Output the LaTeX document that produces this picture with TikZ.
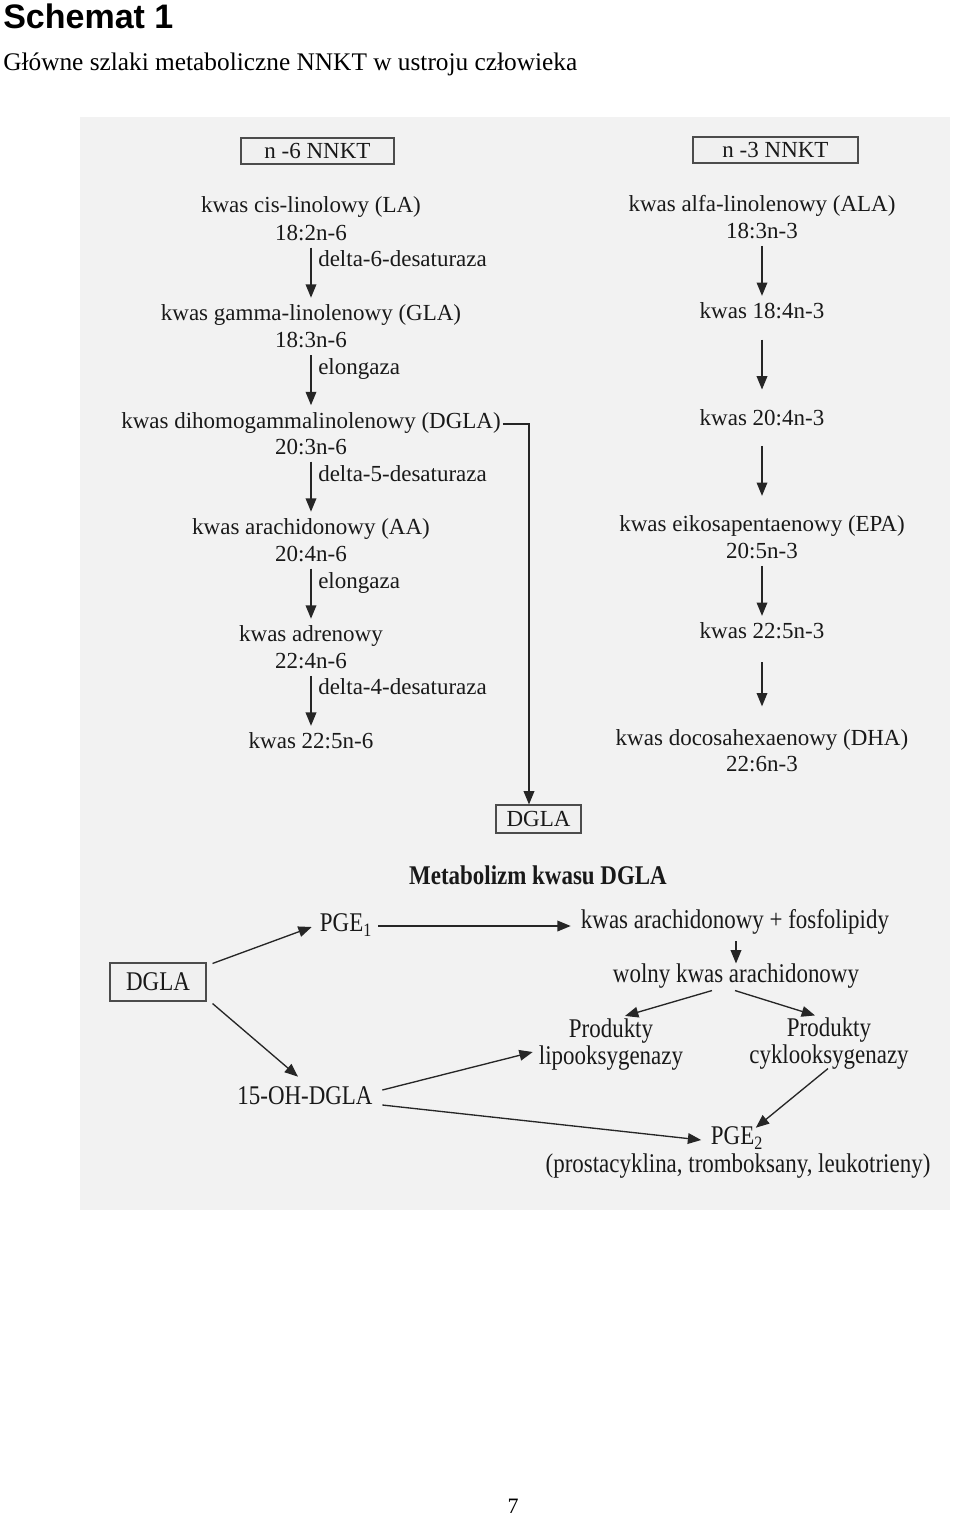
\documentclass[tikz,border=0pt]{standalone}
\usepackage{fontspec}
\setmainfont{Liberation Serif}
\newfontfamily\titlefont{Liberation Sans}
\newfontfamily\lowfont[FakeStretch=0.85]{Liberation Serif}
\usetikzlibrary{arrows.meta,calc}

\tikzset{
  txt/.style={font=\fontsize{17.25pt}{20pt}\selectfont, text=black!90, inner sep=0pt},
  enz/.style={txt, anchor=west},
  low/.style={font=\lowfont\fontsize{20.25pt}{20.25pt}\selectfont, text=black!90, inner sep=0pt, align=center},
  heading/.style={font=\lowfont\bfseries\fontsize{20.25pt}{24pt}\selectfont, text=black!90},
  tag/.style={draw=black!70, fill=black!6, line width=0.8pt, inner sep=0pt},
  flow/.style={draw=black!85, line width=1pt, -{Triangle[length=10pt,width=8pt]}},
}
\newcommand{\vflow}[3][25]{\draw[flow] ($(#2.south)!.5!(#3.north)+(0,-#1)$) -- ($(#2.south)!.5!(#3.north)+(0,#1)$);}

\begin{document}
\begin{tikzpicture}[x=0.75pt, y=-0.75pt]
  \useasboundingbox (0,0) rectangle (960,1517);
  \fill[black!5] (80,117) rectangle (950,1210);

  \node[anchor=base west, inner sep=0pt, font=\titlefont\bfseries\fontsize{25.5pt}{30pt}\selectfont] (title) at (3,28) {Schemat 1};
  \node[anchor=base west, inner sep=0pt, font=\fontsize{19pt}{22pt}\selectfont] (subtitle) at (3,70) {Główne szlaki metaboliczne NNKT w ustroju człowieka};

  % n-6
  \node[tag, txt, minimum width=114.75pt, minimum height=19.5pt] (n6) at (317.5,151) {n -6 NNKT};
  \node[txt] (la) at (311,207) {kwas cis-linolowy (LA)};
  \node[txt] (la2) at (311,233) {18:2n-6};
  \node[txt] (gla) at (311,315) {kwas gamma-linolenowy (GLA)};
  \node[txt] (gla2) at (311,340) {18:3n-6};
  \node[txt] (dgla) at (311,423) {kwas dihomogammalinolenowy (DGLA)};
  \node[txt] (dgla2) at (311,447) {20:3n-6};
  \node[txt] (aa) at (311,529) {kwas arachidonowy (AA)};
  \node[txt] (aa2) at (311,554) {20:4n-6};
  \node[txt] (adr) at (311,636) {kwas adrenowy};
  \node[txt] (adr2) at (311,661) {22:4n-6};
  \node[txt] (dpa6) at (311,741) {kwas 22:5n-6};

  \node[enz] (d6) at (318,259) {delta-6-desaturaza};
  \node[enz] (el1) at (318,369) {elongaza};
  \node[enz] (d5) at (318,474) {delta-5-desaturaza};
  \node[enz] (el2) at (318,583) {elongaza};
  \node[enz] (d4) at (318,687) {delta-4-desaturaza};

  \vflow{la2}{gla}
  \vflow{gla2}{dgla}
  \vflow{dgla2}{aa}
  \vflow{aa2}{adr}
  \vflow{adr2}{dpa6}

  % n-3
  \node[tag, txt, minimum width=123.75pt, minimum height=19.5pt] (n3) at (775.5,150) {n -3 NNKT};
  \node[txt] (ala) at (762,206) {kwas alfa-linolenowy (ALA)};
  \node[txt] (ala2) at (762,231) {18:3n-3};
  \node[txt] (sda) at (762,311) {kwas 18:4n-3};
  \node[txt] (eta) at (762,418) {kwas 20:4n-3};
  \node[txt] (epa) at (762,526) {kwas eikosapentaenowy (EPA)};
  \node[txt] (epa2) at (762,551) {20:5n-3};
  \node[txt] (dpa3) at (762,631) {kwas 22:5n-3};
  \node[txt] (dha) at (762,740) {kwas docosahexaenowy (DHA)};
  \node[txt] (dha2) at (762,764) {22:6n-3};

  \vflow{ala2}{sda}
  \vflow{sda}{eta}
  \vflow{eta}{epa}
  \vflow{epa2}{dpa3}
  \vflow[22]{dpa3}{dha}

  \node[tag, txt, minimum width=63.75pt, minimum height=21pt] (dglabox) at (538.5,819) {DGLA};
  \coordinate (turn) at ($(dgla.east)+(28,1)$);
  \draw[flow] ($(dgla.east)+(2,1)$) -- (turn) -- (turn |- dglabox.north);

  % DGLA
  \node[heading] (head) at (538,875) {Metabolizm kwasu DGLA};
  \node[tag, low, minimum width=72pt, minimum height=28.5pt] (dglab) at (158,982) {DGLA};
  \node[low] (pge1) at (346,925) {PGE\textsubscript{1}};
  \node[low] (kaf) at (735,922) {kwas arachidonowy + fosfolipidy};
  \node[low] (wolny) at (736,976) {wolny kwas arachidonowy};
  \node[low] (lipo) at (611,1045) {Produkty\\lipooksygenazy};
  \node[low] (cyklo) at (829,1044) {Produkty\\cyklooksygenazy};
  \node[low] (oh) at (305,1096) {15-OH-DGLA};
  \node[low] (pge2) at (737,1138) {PGE\textsubscript{2}};
  \node[low] (prost) at (738,1166) {(prostacyklina, tromboksany, leukotrieny)};

  \draw[flow] ($(dglab.north east)+(6,1)$) -- ($(pge1.west)+(-8,2)$);
  \draw[flow] ($(dglab.south east)+(6,2)$) -- ($(oh.north)+(-7,-10)$);
  \draw[flow] ($(pge1.east)+(6,1)$) -- ($(kaf.west)+(-10,4)$);
  \draw[flow, shorten <=5pt] (kaf.south -| wolny) -- (wolny.north);
  \draw[flow] ($(wolny.south)+(-24,2)$) -- ($(lipo.north)+(14,-3)$);
  \draw[flow] ($(wolny.south)+(-1,2)$) -- ($(cyklo.north)+(-14,-2.5)$);
  \draw[flow] ($(oh.east)+(9.5,-6)$) -- ($(lipo.west)+(-6,7)$);
  \draw[flow] ($(oh.east)+(9.5,9)$) -- ($(pge2.west)+(-9.5,2)$);
  \draw[flow] ($(cyklo.south)+(-1,-1.5)$) -- ($(pge2.north east)+(-7.5,1)$);

  \node[anchor=base, font=\fontsize{16.5pt}{18pt}\selectfont] (page) at (513,1513) {7};
\end{tikzpicture}
\end{document}
